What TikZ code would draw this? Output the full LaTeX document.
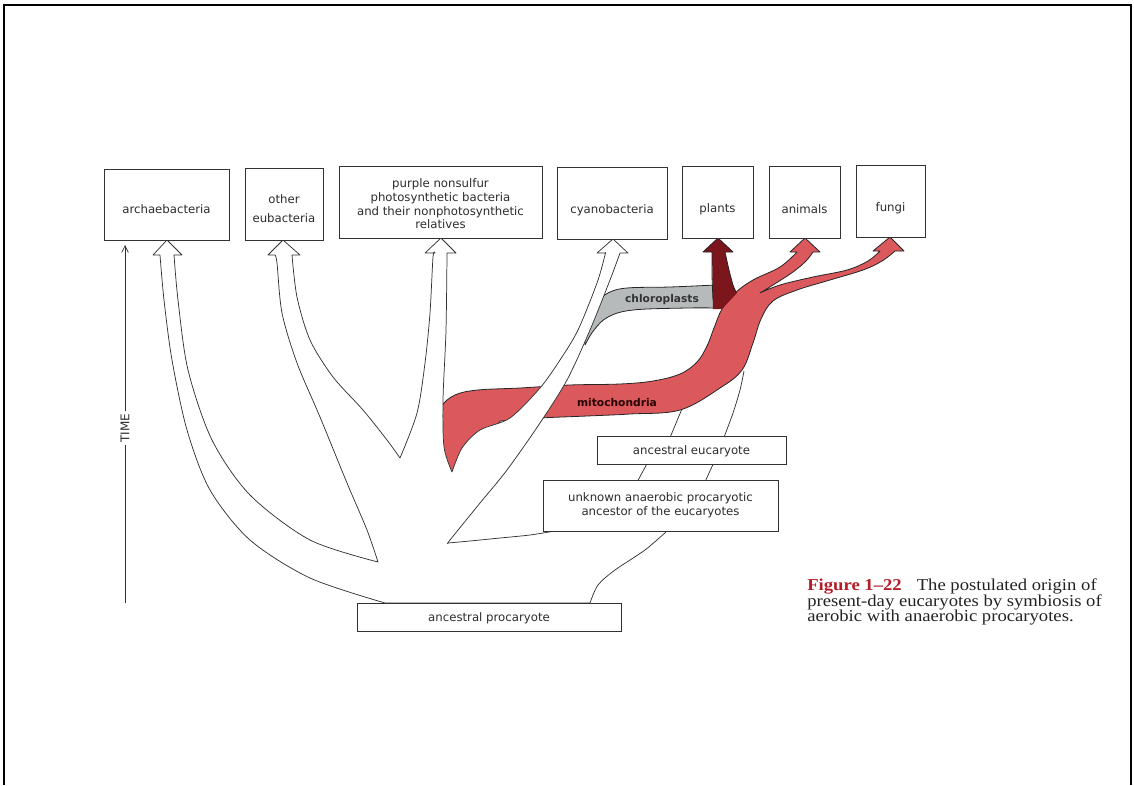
\documentclass[tikz,border=0pt]{standalone}
\usepackage{fontspec}
\setmainfont{Liberation Serif}
\newfontfamily\boxfont{DejaVu Sans}
\newfontfamily\capfont[FakeStretch=1.12]{Liberation Serif}
\usetikzlibrary{arrows.meta,calc}
\definecolor{mitored}{RGB}{219,88,92}
\definecolor{plantred}{RGB}{122,22,28}
\definecolor{chlorogray}{RGB}{182,186,186}
\definecolor{inkline}{RGB}{50,50,50}
\definecolor{boxtext}{RGB}{45,45,45}
\definecolor{figred}{RGB}{178,30,40}
\definecolor{captext}{RGB}{35,35,35}
\begin{document}
\begin{tikzpicture}[x=0.75pt,y=-0.75pt,
  box/.style={draw=inkline, line width=0.7pt, fill=white, inner sep=0pt, outer sep=0pt},
  lbl/.style={font=\boxfont\fontsize{8.8}{10.2}\selectfont, text=boxtext, align=center, inner sep=0pt},
  ribbon/.style={fill=white, draw=inkline, line width=0.55pt, line join=round},
  thinline/.style={draw=inkline, line width=0.55pt},
  band/.style={draw=black!85, line width=0.6pt, line join=round},
  bandlbl/.style={font=\boxfont\bfseries\fontsize{8}{9}\selectfont, inner sep=0pt},
  captxt/.style={anchor=base west, inner sep=0pt, text=captext, font=\capfont\fontsize{12.5}{14}\selectfont}]

\useasboundingbox (0,0) rectangle (1134,785);

% frame
\draw[line width=1.2pt] (4,785) -- (4,5) -- (1131,5) -- (1131,785);

% time axis
\coordinate (t0) at (125,603);
\coordinate (t1) at (125,245);
\node[lbl, rotate=90, font=\boxfont\fontsize{9}{10}\selectfont, inner xsep=2pt] (time) at (125,428) {TIME};
\draw[thinline] (t0) -- (time.west);
\draw[thinline, -{Straight Barb[length=5pt,width=5pt]}] (time.east) -- (t1);

% eucaryote lineage lines (under the red band)
\draw[thinline] (636,484) -- (649,460);
\draw[thinline] (704,484) -- (715,460);
\draw[thinline] (669,440) -- (684,404);
\draw[thinline] plot[smooth] coordinates {(723,440) (733,413) (740,390) (744,371)};

% mitochondria band
\filldraw[band, fill=mitored] plot[smooth, tension=0.6] coordinates {(437,425) (441,407) (455,395) (478,390) (520,388) (570,385) (620,384) (653,381) (680,374) (697,362) (707,346) (714,328) (722,309) (735,293) (753,280) (780,267) (797,252)}
  -- (790,252) -- (805,238) -- (820,252) -- (813,252)
  -- plot[smooth, tension=0.6] coordinates {(813,252) (806,261) (793,272) (773,285) (760,293)}
  -- plot[smooth, tension=0.6] coordinates {(760,293) (780,285) (813,277) (847,270) (868,261) (880,251)}
  -- (873,251) -- (890,237) -- (904,251) -- (895,251)
  -- plot[smooth, tension=0.6] coordinates {(895,251) (882,261) (863,270) (830,280) (797,290) (773,301) (761,319) (753,343) (742,370) (720,388) (680,410) (630,414) (587,416) (540,418) (500,421)}
  -- (470,480) -- (436,480) -- cycle;

% chloroplast band
\filldraw[band, fill=chlorogray] plot[smooth, tension=0.6] coordinates {(583,322) (597,303) (608,293) (627,288) (670,287) (716,285)}
  -- (716,308)
  -- plot[smooth, tension=0.6] coordinates {(716,308) (687,308) (633,310) (608,317) (594,330) (585,345)} -- cycle;

% plants arrow (chloroplast + mitochondria)
\fill[plantred] (712,252) -- (703,252) -- (718,238) -- (733,252) -- (725,252)
  -- plot[smooth] coordinates {(725,252) (729,270) (733,285) (737,293)}
  -- (722,309) -- (713,309) -- cycle;
\draw[band] plot[smooth] coordinates {(713,300) (712,275) (712,252)} -- (703,252) -- (718,238) -- (733,252) -- (725,252)
  -- plot[smooth] coordinates {(725,252) (729,270) (733,285) (736,292)};

% the procaryote tree
\filldraw[ribbon] (385,603)
  -- plot[smooth] coordinates {(385,603) (310,578) (250,540) (210,490) (187,430) (172,360) (164,300) (160,255)}
  -- (153,255) -- (167,240) -- (182,255) -- (174,255)
  -- plot[smooth] coordinates {(174,255) (178,300) (188,370) (212,440) (250,495) (310,540) (378,562)}
  -- plot[smooth] coordinates {(378,562) (367,530) (347,483) (320,417) (297,363) (282,313) (277,263) (275,255)}
  -- (268,255) -- (283,240) -- (300,255) -- (292,255)
  -- plot[smooth] coordinates {(292,255) (297,297) (310,340) (333,377) (363,410) (387,440) (400,458)}
  -- plot[smooth] coordinates {(400,458) (417,413) (425,363) (430,313) (433,257) (435,253)}
  -- (425,253) -- (441,238) -- (456,253) -- (447,253)
  -- plot[smooth] coordinates {(447,253) (446,330) (443,400) (444,447) (452,472)}
  -- plot[smooth] coordinates {(452,472) (462,448) (480,430) (510,418) (540,388) (560,360) (578,330) (597,283) (605,255) (605,253)}
  -- (597,253) -- (613,239) -- (628,253) -- (620,253)
  -- plot[smooth] coordinates {(620,253) (610,280) (590,330) (567,380) (540,423) (507,470) (480,503) (450,540) (448,543)}
  -- plot[smooth] coordinates {(448,543) (470,541) (500,538) (530,535) (555,531)}
  -- (667,531)
  -- plot[smooth] coordinates {(667,531) (645,550) (615,570) (598,585) (590,603)}
  -- cycle;

% band labels
\node[bandlbl, text=black!80] (chl) at (662,300) {chloroplasts};
\node[bandlbl, text=black!85!red] (mit) at (617,403) {mitochondria};

% boxes
\node[box, minimum width=93.75pt, minimum height=53.25pt] (archae) at (166.5,204.5) {};
\node[box, minimum width=58.5pt, minimum height=54pt] (eubact) at (284,204) {};
\node[box, minimum width=152.25pt, minimum height=54pt] (purple) at (440.5,202) {};
\node[box, minimum width=82.5pt, minimum height=54pt] (cyano) at (612,203) {};
\node[box, minimum width=53.25pt, minimum height=54pt] (plants) at (717.5,202) {};
\node[box, minimum width=53.25pt, minimum height=54pt] (animals) at (804.5,202) {};
\node[box, minimum width=51.75pt, minimum height=54pt] (fungi) at (890.5,201) {};
\node[box, minimum width=141.75pt, minimum height=21pt] (anceuc) at (691.5,450) {};
\node[box, minimum width=176.25pt, minimum height=38.25pt] (unknown) at (660.5,505.5) {};
\node[box, minimum width=198pt, minimum height=21pt] (ancpro) at (489,617) {};

% box texts
\node[lbl] at ($(archae)+(0,5)$) {archaebacteria};
\node[lbl] at ($(eubact)+(0,5)$) {other\\[4pt]eubacteria};
\node[lbl] at ($(purple)+(0,2)$) {purple nonsulfur\\photosynthetic bacteria\\and their nonphotosynthetic\\relatives};
\node[lbl] at ($(cyano)+(0,7)$) {cyanobacteria};
\node[lbl] at ($(plants)+(0,7)$) {plants};
\node[lbl] at ($(animals)+(0,7)$) {animals};
\node[lbl] at ($(fungi)+(0,7)$) {fungi};
\node[lbl] at ($(anceuc)+(0,1)$) {ancestral eucaryote};
\node[lbl] at ($(unknown)+(0,0)$) {unknown anaerobic procaryotic\\ancestor of the eucaryotes};
\node[lbl] at ($(ancpro)+(0,1)$) {ancestral procaryote};

% caption
\node[captxt] (cap1) at (807,590) {\textcolor{figred}{\textbf{Figure 1–22}}\hspace{0.9em}The postulated origin of};
\node[captxt] (cap2) at (807,606) {present-day eucaryotes by symbiosis of};
\node[captxt] (cap3) at (807,621) {aerobic with anaerobic procaryotes.};
\end{tikzpicture}
\end{document}
